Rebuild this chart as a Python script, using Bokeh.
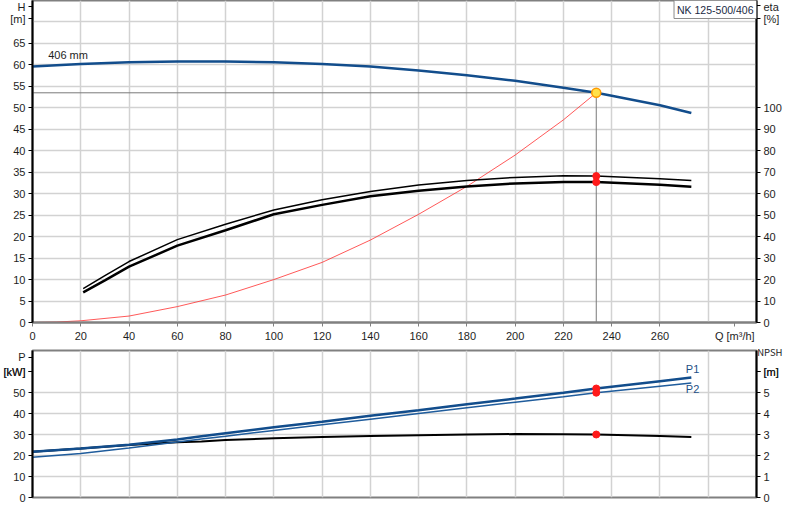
from bokeh.plotting import figure
from bokeh.layouts import column
from bokeh.models import Range1d, LinearAxis, FixedTicker, Label, Title
from bokeh.embed import file_html
from bokeh.resources import INLINE

# Verdier lest av kurvene
q_h = [0, 20, 40, 60, 80, 100, 120, 140, 160, 180, 200, 220, 233.6, 240, 260, 273]
h_406 = [59.6, 60.2, 60.6, 60.8, 60.8, 60.6, 60.2, 59.6, 58.7, 57.6, 56.3, 54.7, 53.5, 52.8, 50.6, 48.8]

q_eta = [21, 30, 40, 60, 80, 100, 120, 140, 160, 180, 200, 220, 233.6, 260, 273]
eta_1 = [15.8, 21.8, 28.4, 38.6, 45.8, 52.4, 57.2, 61.0, 64.0, 66.2, 67.6, 68.4, 68.2, 67.0, 66.2]
eta_2 = [14.0, 19.6, 26.0, 35.8, 43.0, 50.4, 54.8, 58.8, 61.4, 63.4, 64.8, 65.4, 65.4, 64.2, 63.2]

q_sys = [0, 10, 20, 40, 60, 80, 100, 120, 140, 160, 180, 200, 220, 233.6]
h_sys = [0, 0.1, 0.4, 1.5, 3.7, 6.4, 10.0, 14.0, 19.2, 25.2, 31.7, 39.0, 47.2, 53.5]

q_p = [0, 20, 40, 60, 70, 80, 100, 120, 140, 160, 180, 200, 220, 233.6, 260, 273]
p1 = [21.8, 23.3, 25.1, 27.6, 29.2, 30.6, 33.4, 36.1, 38.9, 41.6, 44.4, 47.1, 49.9, 51.9, 55.4, 57.1]
p2 = [19.2, 21.0, 23.6, 26.4, 27.9, 29.2, 31.9, 34.6, 37.3, 40.0, 42.7, 45.4, 48.0, 49.9, 53.0, 54.5]
npsh = [2.18, 2.33, 2.50, 2.63, 2.67, 2.74, 2.82, 2.88, 2.93, 2.97, 3.00, 3.02, 3.01, 3.00, 2.93, 2.88]

q_ticks = list(range(0, 261, 20))
q_grid = list(range(0, 281, 20))
h_ticks = list(range(0, 66, 5))
h_grid = list(range(0, 71, 5))
eta_ticks = list(range(0, 101, 10))
p_ticks = list(range(0, 61, 10))
p_grid = list(range(0, 51, 10))
npsh_ticks = list(range(0, 7))

# enhetstekster som står i aksenes talkolonne
q_name = {291: "Q [m³/h]"}
h_name = {70.8: "[m]", 73.7: "H"}
eta_name = {141.6: "[%]", 147.5: "eta"}
p_name = {60: "[kW]", 66.8: "P"}
npsh_name = {6: "[m]"}

q_op = q_h[12]
h_op = h_406[12]

FONT = "Liberation Sans"
BLUE = "#124d8c"
GRID = "#d2d2d2"
TXT = "#1e1e1e"
W = 784
LEFT, RIGHT = 28, 24


def style_axis(ax, ticks, color="black", names=None):
    names = names or {}
    ax.ticker = FixedTicker(ticks=sorted(list(ticks) + list(names)))
    ax.major_label_overrides = names
    ax.major_label_text_font = FONT
    ax.major_label_text_font_size = "11px"
    ax.major_label_text_color = TXT
    ax.major_tick_out = 4
    ax.major_tick_in = 0
    ax.major_label_standoff = 3
    ax.minor_tick_line_color = None
    ax.axis_line_color = color
    ax.axis_line_width = 2
    ax.major_tick_line_color = color


def txt(p, text, x, y, xo=0, yo=0, align="center", base="middle", color=TXT,
        size="11px", **kw):
    p.add_layout(Label(x=x, y=y, x_offset=xo, y_offset=yo, text=text, text_font=FONT,
                       text_font_size=size, text_color=color, text_align=align,
                       text_baseline=base, **kw))


# Øvre diagram: løftehøyde og virkningsgrad
top = figure(width=W, height=344, x_range=Range1d(0, 300), y_range=Range1d(0, 75),
             output_backend="svg", toolbar_location=None,
             min_border_left=LEFT, min_border_right=RIGHT, min_border_top=0, min_border_bottom=20)
top.extra_y_ranges = {"eta": Range1d(0, 150)}
top.outline_line_color = "#808080"
top.outline_line_width = 2

style_axis(top.xaxis[0], q_ticks, color="#808080", names=q_name)
style_axis(top.yaxis[0], h_ticks, names=h_name)
eta_axis = LinearAxis(y_range_name="eta")
style_axis(eta_axis, eta_ticks, names=eta_name)
top.add_layout(eta_axis, "right")

top.xgrid.ticker = FixedTicker(ticks=q_grid)
top.ygrid.ticker = FixedTicker(ticks=h_grid)
for g in (top.xgrid, top.ygrid):
    g.grid_line_color = GRID
    g.grid_line_width = 1.5

top.line([0, q_op], [h_op, h_op], line_color="#7a7a7a", line_width=1)
top.line([q_op, q_op], [0, h_op], line_color="#7a7a7a", line_width=1)
top.line(q_sys, h_sys, line_color="#ff3030", line_width=1, line_alpha=0.8)
top.line(q_h, h_406, line_color=BLUE, line_width=2.5)
top.line(q_eta, eta_1, y_range_name="eta", line_color="black", line_width=1.5)
top.line(q_eta, eta_2, y_range_name="eta", line_color="black", line_width=2.5)
top.scatter([q_op, q_op], [eta_1[12], eta_2[12]], y_range_name="eta", size=7, color="#ff1a1a")
top.scatter([q_op], [h_op], size=9, fill_color="#ffe14a", line_color="#ff9a00", line_width=1.5)

txt(top, "406 mm", 6.5, 62.3, align="left")
txt(top, "NK 125-500/406", 300, 75, xo=0, yo=0, align="right", base="top", size="10.5px",
    color="#1b2a44", padding=3, background_fill_color="white",
    border_line_color="#8c8c8c", border_line_width=1)

# Nedre diagram: effekt og NPSH
bot = figure(width=W, height=160, x_range=top.x_range, y_range=Range1d(0, 70),
             output_backend="svg", toolbar_location=None,
             min_border_left=LEFT, min_border_right=RIGHT, min_border_top=6, min_border_bottom=7)
bot.extra_y_ranges = {"npsh": Range1d(0, 7)}
bot.outline_line_color = "#808080"
bot.outline_line_width = 2

bot.xaxis.visible = False
style_axis(bot.yaxis[0], p_ticks, names=p_name)
npsh_axis = LinearAxis(y_range_name="npsh")
style_axis(npsh_axis, npsh_ticks, names=npsh_name)
bot.add_layout(npsh_axis, "right")
bot.add_layout(Title(text="NPSH", align="right", offset=-26, standoff=-17,
                     text_font="Noto Sans CJK JP", text_font_size="9.5px",
                     text_font_style="normal", text_color=TXT), "above")

bot.xgrid.ticker = FixedTicker(ticks=q_grid)
bot.ygrid.ticker = FixedTicker(ticks=p_grid)
for g in (bot.xgrid, bot.ygrid):
    g.grid_line_color = GRID
    g.grid_line_width = 1.5

bot.line(q_p, npsh, y_range_name="npsh", line_color="black", line_width=2)
bot.line(q_p, p2, line_color="#1f5c9c", line_width=1.5)
bot.line(q_p, p1, line_color=BLUE, line_width=2.5)
bot.scatter([q_op, q_op], [p1[13], p2[13]], size=7, color="#ff1a1a")
bot.scatter([q_op], [npsh[13]], y_range_name="npsh", size=7, color="#ff1a1a")

txt(bot, "P1", 273.5, 61, color="#1f4f86")
txt(bot, "P2", 273.5, 51.8, color="#1f4f86")

p = column(top, bot, spacing=0)
open("out.html", "w").write(file_html(p, INLINE))
